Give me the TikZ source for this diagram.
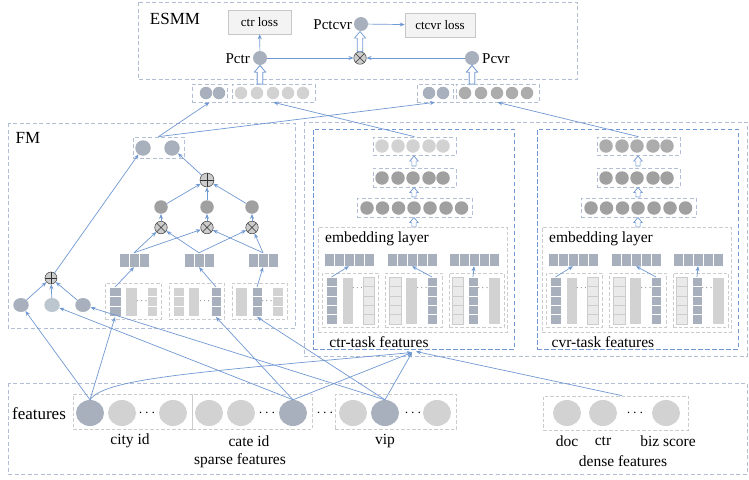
\documentclass[tikz,border=0pt]{standalone}
\usepackage{fontspec}
\setmainfont{Liberation Serif}
\usetikzlibrary{arrows.meta,calc,shapes.geometric}
\definecolor{cblue}{RGB}{112,152,210}
\definecolor{cbox}{RGB}{178,190,212}
\definecolor{ctask}{RGB}{112,152,210}
\definecolor{cgrp}{RGB}{204,204,204}
\definecolor{cbg}{RGB}{168,176,190}
\definecolor{cbgl}{RGB}{188,198,206}
\definecolor{clg}{RGB}{210,210,210}
\definecolor{cdg}{RGB}{160,160,160}
\definecolor{cmg}{RGB}{172,172,172}
\definecolor{cvl}{RGB}{234,234,234}
\definecolor{cop}{RGB}{204,204,204}
\definecolor{closs}{RGB}{243,243,243}
\tikzset{
  conn/.style={draw=cblue, line width=0.7pt, -{Stealth[length=5pt,width=4pt]}},
  obox/.style={draw=cbox, line width=0.7pt, dash pattern=on 4pt off 2.5pt, inner sep=0pt},
  tbox/.style={draw=ctask, line width=0.9pt, dash pattern=on 4.5pt off 2.5pt, inner sep=0pt},
  gbox/.style={draw=cgrp, line width=0.7pt, dash pattern=on 3.5pt off 2pt, inner sep=0pt},
  dotc/.style={circle, inner sep=0pt, minimum size=#1},
  otim/.style={circle, draw=black!75, fill=cop, line width=0.5pt, minimum size=12.5pt, inner sep=0pt,
    path picture={\draw[black!80, line width=0.5pt]
      (path picture bounding box.south west) -- (path picture bounding box.north east)
      (path picture bounding box.north west) -- (path picture bounding box.south east);}},
  oplu/.style={circle, draw=black!75, fill=cop, line width=0.5pt, minimum size=#1, inner sep=0pt,
    path picture={\draw[black!80, line width=0.6pt]
      (path picture bounding box.south) -- (path picture bounding box.north)
      (path picture bounding box.west) -- (path picture bounding box.east);}},
  fe/.style={ellipse, inner sep=0pt, minimum width=28pt, minimum height=26pt},
  big/.style={font=\fontsize{17}{20}\selectfont, inner sep=0pt},
  lab/.style={font=\fontsize{15.5}{18}\selectfont, inner sep=0pt},
  plab/.style={font=\fontsize{15}{18}\selectfont, inner sep=0pt},
  lossbox/.style={draw=black!22, fill=closs, line width=0.6pt, minimum height=24pt, inner sep=0pt, font=\fontsize{13}{15}\selectfont},
  dotsl/.style={font=\fontsize{15}{15}\selectfont, inner sep=0pt},
  dotss/.style={font=\fontsize{9}{9}\selectfont, inner sep=0pt},
  cellb/.style={fill=cbg, draw=white, line width=0.6pt},
  cellg/.style={fill=clg, draw=white, line width=0.4pt},
  cellv/.style={fill=cvl, draw=cgrp, line width=0.5pt},
  hollow/.style={draw=cblue, fill=white, line width=0.7pt}
}
\newcommand{\harrow}[4]{%
  \draw[hollow] ({#1-2.5*#4},#2) -- ({#1-2.5*#4},{#3+6*#4}) -- ({#1-5*#4},{#3+6*#4}) -- (#1,#3)
    -- ({#1+5*#4},{#3+6*#4}) -- ({#1+2.5*#4},{#3+6*#4}) -- ({#1+2.5*#4},#2) -- cycle;}
\newcommand{\mkcells}[6]{%
  \pgfmathsetmacro{\cellh}{(#4-#3)/#5}%
  \foreach \k in {1,...,#5}{\draw[#6] (#1,{#3+(\k-1)*\cellh}) rectangle (#2,{#3+\k*\cellh});}}
\newcommand{\mkrow}[6]{%
  \foreach \k in {1,...,#3}{\draw[#6] ({#1+(\k-1)*#4},#2) rectangle ({#1+\k*#4},{#2+#5});}}
\begin{document}
\begin{tikzpicture}[x=1pt,y=-1pt]
\useasboundingbox (0,0) rectangle (749,479);

%% ================= ESMM =================
\draw[obox] (138,2) rectangle (577,79);
\node[big] (esmm) at (175,19) {ESMM};
\node[lossbox, minimum width=63pt] (ctrloss) at (259.5,22) {ctr loss};
\node[lossbox, minimum width=70pt] (ctcvrloss) at (440,25) {ctcvr loss};
\node[dotc=14pt, fill=cbg] (pctcvr) at (361,24) {};
\node[plab, anchor=east] (lpctcvr) at (352,25) {Pctcvr};
\node[dotc=14pt, fill=cbg] (pctr) at (260,58) {};
\node[plab, anchor=east] (lpctr) at (250,59) {Pctr};
\node[otim] (esx) at (360,58) {};
\node[dotc=14pt, fill=cbg] (pcvr) at (472,58) {};
\node[plab, anchor=west] (lpcvr) at (482,59) {Pcvr};
\draw[conn] (pctr) -- (ctrloss);
\draw[conn] (pctcvr) -- (ctcvrloss);
\draw[conn] (pctr) -- (esx);
\draw[conn] (pcvr) -- (esx);
\harrow{360}{51.5}{31.5}{1.1}
\harrow{260}{84}{65.5}{1.1}
\harrow{472}{84}{65.5}{1.1}

%% output rows
\node[obox, minimum width=35pt, minimum height=18pt] (ctr2) at (209.5,93) {};
\node[obox, minimum width=83pt, minimum height=18pt] (ctr5) at (273.5,93) {};
\node[obox, minimum width=36pt, minimum height=18pt] (cvr2) at (435,93) {};
\node[obox, minimum width=83pt, minimum height=18pt] (cvr5) at (497.5,93) {};
\foreach \x [count=\i] in {206,219} \node[dotc=12.5pt, fill=cbg] (ctr2c\i) at (\x,93) {};
\foreach \x [count=\i] in {241,257,273,288,303} \node[dotc=12.5pt, fill=clg] (ctr5c\i) at (\x,93) {};
\foreach \x [count=\i] in {429,443} \node[dotc=12.5pt, fill=cbg] (cvr2c\i) at (\x,93) {};
\foreach \x [count=\i] in {465,481,497,512,527} \node[dotc=12.5pt, fill=cmg] (cvr5c\i) at (\x,93) {};
\harrow{260}{84}{65.5}{1.1}
\harrow{472}{84}{65.5}{1.1}

%% ================= FM =================
\draw[obox] (8,123) rectangle (295,328);
\node[big] (fm) at (28,138) {FM};
\node[obox, minimum width=51pt, minimum height=21pt] (fmout) at (158.5,147.5) {};
\node[dotc=15.5pt, fill=cbg] (fmo1) at (143,148) {};
\node[dotc=15.5pt, fill=cbg] (fmo2) at (172,148) {};
\node[oplu=14pt] (fmplus) at (207,180) {};
\foreach \x [count=\i] in {161,207,252} {
  \node[dotc=13.5pt, fill=cdg] (fmc\i) at (\x,207) {};
  \node[otim] (fmx\i) at (\x,227.5) {};
  \draw[conn] (fmx\i) -- (fmc\i);
  \draw[conn] (fmc\i) -- (fmplus);
}
\draw[conn] (fmplus) -- (fmo2);
\foreach \x [count=\i] in {134,199,263} {
  \node[inner sep=0pt, minimum width=30pt, minimum height=14pt] (fv\i) at (\x,260) {};
  \mkrow{\x-15}{253}{3}{10}{14}{cellb}
}
\draw[conn] (fv1.north) -- (fmx1);
\draw[conn] (fv1.north) -- (fmx2);
\draw[conn] (fv2.north) -- (fmx1);
\draw[conn] (fv2.north) -- (fmx3);
\draw[conn] (fv3.north) -- (fmx2);
\draw[conn] (fv3.north) -- (fmx3);
% sparse tables
\node[gbox, minimum width=56pt, minimum height=36pt] (fg1) at (133,301) {};
\node[gbox, minimum width=55pt, minimum height=36pt] (fg2) at (196.5,301) {};
\node[gbox, minimum width=55pt, minimum height=36pt] (fg3) at (259.5,301) {};
\mkcells{109}{121}{287}{316}{3}{cellb}
\draw[cellg] (125,287) rectangle (137,316);
\node[dotss] (fd1) at (142,301) {$\cdots$};
\mkcells{147}{157}{287}{316}{3}{cellg}
\mkcells{173}{184}{287}{316}{3}{cellg}
\draw[cellg] (188,287) rectangle (199,316);
\node[dotss] (fd2) at (204.5,301) {$\cdots$};
\mkcells{211}{221}{287}{316}{3}{cellb}
\draw[cellg] (235,287) rectangle (247,316);
\mkcells{252}{262}{287}{316}{3}{cellb}
\node[dotss] (fd3) at (267,301) {$\cdots$};
\mkcells{272}{283}{287}{316}{3}{cellg}
\coordinate (fb1t) at (115,287); \coordinate (fb1b) at (115,317);
\coordinate (fb2t) at (216,287); \coordinate (fb2b) at (216,317);
\coordinate (fb3t) at (257,287); \coordinate (fb3b) at (257,317);
\draw[conn] (fb1t) -- (fv1.south);
\draw[conn] (fb2t) -- (fv2.south);
\draw[conn] (fb3t) -- (fv3.south);
% linear part
\node[ellipse, inner sep=0pt, minimum width=15.5pt, minimum height=14pt, fill=cbg] (lin1) at (21,305) {};
\node[ellipse, inner sep=0pt, minimum width=15.5pt, minimum height=14pt, fill=cbgl] (lin2) at (52,305) {};
\node[ellipse, inner sep=0pt, minimum width=15.5pt, minimum height=14pt, fill=cbg] (lin3) at (83,305) {};
\node[oplu=12pt] (linplus) at (51,278) {};
\foreach \i in {1,2,3} \draw[conn] (lin\i) -- (linplus);
\draw[conn] (linplus) -- (fmo1);

%% ================= task towers =================
\draw[obox] (304,122) rectangle (747,356);
\foreach \tsk/\dx/\tcol in {ctr/0/clg, cvr/224/cmg} {
\begin{scope}[xshift=\dx]
  \node[tbox, minimum width=201pt, minimum height=220pt] (\tsk-box) at (413.5,239) {};
  \node[obox, minimum width=83pt, minimum height=18pt] (\tsk-top) at (414.5,146) {};
  \foreach \x [count=\i] in {382,398,413,429,443} \node[dotc=13.5pt, fill=\tcol] (\tsk-t\i) at (\x,146) {};
  \node[obox, minimum width=83pt, minimum height=19pt] (\tsk-mid) at (414.5,177.5) {};
  \foreach \x [count=\i] in {382,398,413,429,443} \node[dotc=13.5pt, fill=cdg] (\tsk-m\i) at (\x,178) {};
  \node[obox, minimum width=115pt, minimum height=19pt] (\tsk-low) at (414.5,207.5) {};
  \foreach \x [count=\i] in {367,382.5,398.5,414,430,446,461.5} \node[dotc=13.5pt, fill=cdg] (\tsk-l\i) at (\x,208) {};
  \harrow{414}{166}{156}{0.85}
  \harrow{414}{197}{187.5}{0.85}
  \harrow{414}{227}{217.5}{0.85}
  \node[gbox, minimum width=189pt, minimum height=105pt] (\tsk-emb) at (412.5,279.5) {};
  \node[lab] (\tsk-embl) at (377,239) {embedding layer};
  \foreach \x [count=\i] in {324,387,449} {
    \node[inner sep=0pt, minimum width=50pt, minimum height=13pt] (\tsk-v\i) at (\x+25,259.5) {};
    \mkrow{\x}{253}{5}{10}{13}{cellb}
  }
  \node[gbox, minimum width=56pt, minimum height=54pt] (\tsk-g1) at (350,300) {};
  \node[gbox, minimum width=57pt, minimum height=54pt] (\tsk-g2) at (413.5,300) {};
  \node[gbox, minimum width=55pt, minimum height=54pt] (\tsk-g3) at (476.5,300) {};
  \mkcells{326}{337}{277}{324}{5}{cellb}
  \draw[cellg] (342,277) rectangle (353,324);
  \node[dotss] (\tsk-d1) at (357.5,288) {$\cdots$};
  \mkcells{363}{374}{277}{324}{5}{cellv}
  \mkcells{389}{401}{277}{324}{5}{cellv}
  \draw[cellg] (405,277) rectangle (417,324);
  \node[dotss] (\tsk-d2) at (422,288) {$\cdots$};
  \mkcells{427}{437}{277}{324}{5}{cellb}
  \mkcells{452}{463}{277}{324}{5}{cellv}
  \mkcells{468}{478}{277}{324}{5}{cellb}
  \node[dotss] (\tsk-d3) at (483,288) {$\cdots$};
  \draw[cellg] (488,277) rectangle (500,324);
  \coordinate (\tsk-b1) at (331.5,277);
  \coordinate (\tsk-b2) at (432,277);
  \coordinate (\tsk-b3) at (473,277);
  \draw[conn] (\tsk-b1) -- (\tsk-v1.south);
  \draw[conn] (\tsk-b2) -- (\tsk-v2.south);
  \draw[conn] (\tsk-b3) -- (\tsk-v3.south);
  \node[lab] (\tsk-feat) at (379,342) {\tsk-task features};
\end{scope}
}
\coordinate (ctrin) at (412,352.5);
\coordinate (ctrin2) at (416,351.5);

%% connections to ESMM
\draw[conn] (fmout.north) -- (ctr2.south);
\draw[conn] (fmout.north) -- (cvr2.south);
\draw[conn] (ctr-top.north) -- (ctr5.south);
\draw[conn] (cvr-top.north) -- (cvr5.south);

%% ================= features =================
\draw[obox] (8,383) rectangle (747,474);
\node[big] (featl) at (39,414) {features};
\node[gbox, minimum width=119pt, minimum height=35pt] (gcity) at (132.5,411.5) {};
\node[gbox, minimum width=120pt, minimum height=35pt] (gcate) at (252,411.5) {};
\node[gbox, minimum width=121pt, minimum height=35pt] (gvip) at (395.5,411.5) {};
\node[gbox, minimum width=145pt, minimum height=34pt] (dense) at (615.5,413) {};
\node[fe, fill=cbg] (city1) at (90,413) {};
\node[fe, fill=clg] (city2) at (122,413) {};
\node[dotsl] (cityd) at (147,413) {$\cdots$};
\node[fe, fill=clg] (city3) at (173,413) {};
\node[fe, fill=clg] (cate1) at (209,413) {};
\node[fe, fill=clg] (cate2) at (241,413) {};
\node[dotsl] (cated) at (267,413) {$\cdots$};
\node[fe, fill=cbg] (cate3) at (293,413) {};
\node[dotsl] (midd) at (325,413) {$\cdots$};
\node[fe, fill=clg] (vip1) at (353,413) {};
\node[fe, fill=cbg] (vip2) at (385,413) {};
\node[dotsl] (vipd) at (413,413) {$\cdots$};
\node[fe, fill=clg] (vip3) at (437,413) {};
\node[fe, fill=clg] (doc) at (567,413) {};
\node[fe, fill=clg] (dctr) at (603,413) {};
\node[dotsl] (densed) at (635,413) {$\cdots$};
\node[fe, fill=clg] (biz) at (666,413) {};
\node[lab] (lcity) at (130,441) {city id};
\node[lab] (lcate) at (249,441) {cate id};
\node[lab] (lvip) at (385,441) {vip};
\node[lab] (ldoc) at (567,441) {doc};
\node[lab] (lctr) at (603,441) {ctr};
\node[lab] (lbiz) at (668,441) {biz score};
\node[lab] (lsparse) at (240,461) {sparse features};
\node[lab] (ldense) at (623,461) {dense features};

%% feature connectors
\draw[conn] (city1.north) -- (lin1);
\draw[conn] (city1.north) -- (fb1b);
\draw[conn] (city1.north) .. controls (105,378) and (200,372) .. (ctrin);
\draw[conn] (cate3.north) -- (lin2);
\draw[conn] (cate3.north) -- (fb2b);
\draw[conn] (cate3.north) -- (ctrin);
\draw[conn] (vip2.north) -- (lin3);
\draw[conn] (vip2.north) -- (fb3b);
\draw[conn] (vip2.north) -- (ctrin);
\draw[conn] ($(dense.north)+(6.5,0)$) -- (ctrin2);
\end{tikzpicture}
\end{document}
